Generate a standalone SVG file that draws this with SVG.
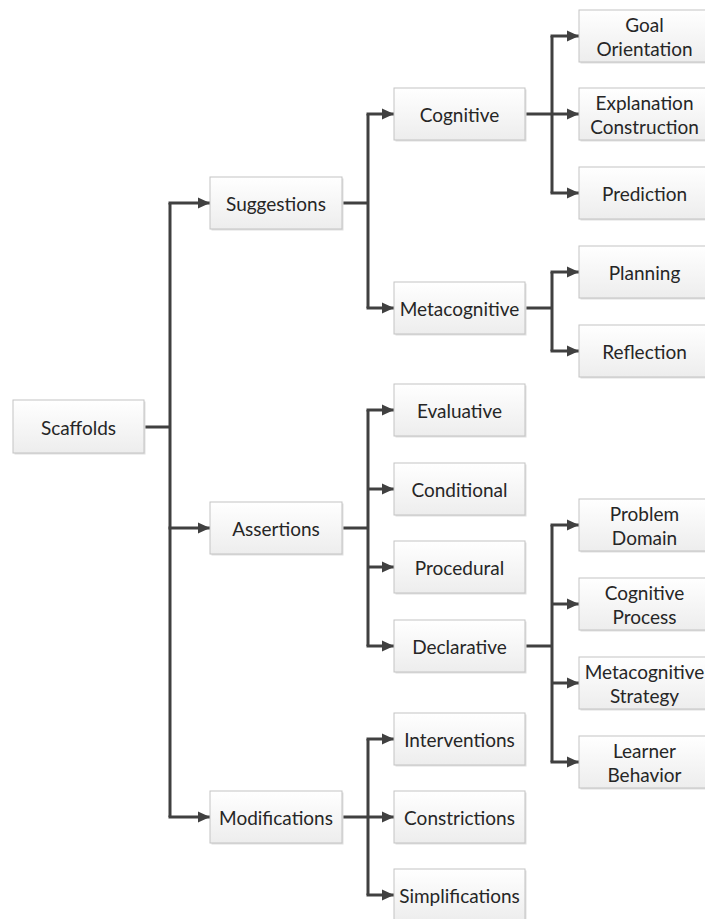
<svg xmlns="http://www.w3.org/2000/svg" width="705" height="919" viewBox="0 0 705 919">
<style>
.box rect.b{fill:url(#g);stroke:#c3c3c3;stroke-width:1}
.box rect.s{fill:#e0e0e0}
.box text{font-family:Lato,"Liberation Sans",sans-serif;font-size:19px;fill:#262626;text-anchor:middle;dominant-baseline:central}
#connectors path{fill:none;stroke:#404040;stroke-width:3}
#connectors path.a{marker-end:url(#arr)}
</style>
<defs>
<linearGradient id="g" x1="0" y1="0" x2="0" y2="1"><stop offset="0" stop-color="#ffffff"/><stop offset="1" stop-color="#ededed"/></linearGradient>
<marker id="arr" markerUnits="userSpaceOnUse" markerWidth="12" markerHeight="12" refX="12" refY="6" orient="auto"><path d="M0,0.5 L12,6 L0,11.5 z" fill="#404040"/></marker>
</defs>
<rect width="705" height="919" fill="#ffffff"/>
<g id="connectors">
<path d="M144 427 H170 M170 203 V817"/>
<path class="a" d="M168.5 203 H210"/><path class="a" d="M168.5 528 H210"/><path class="a" d="M168.5 817 H210"/>
<path d="M342 203 H368 M368 114 V308"/>
<path class="a" d="M366.5 114 H394"/><path class="a" d="M366.5 308 H394"/>
<path d="M342 528 H368 M368 410 V646"/>
<path class="a" d="M366.5 410 H394"/><path class="a" d="M368 489 H394"/><path class="a" d="M368 567 H394"/><path class="a" d="M366.5 646 H394"/>
<path d="M342 817 H368 M368 739 V895"/>
<path class="a" d="M366.5 739 H394"/><path class="a" d="M368 817 H394"/><path class="a" d="M366.5 895 H394"/>
<path d="M525 114 H552 M552 36 V193"/>
<path class="a" d="M550.5 36 H579"/><path class="a" d="M552 114 H579"/><path class="a" d="M550.5 193 H579"/>
<path d="M525 308 H552 M552 272 V351"/>
<path class="a" d="M550.5 272 H579"/><path class="a" d="M550.5 351 H579"/>
<path d="M525 646 H552 M552 525 V762"/>
<path class="a" d="M550.5 525 H579"/><path class="a" d="M552 604 H579"/><path class="a" d="M552 683 H579"/><path class="a" d="M550.5 762 H579"/>
</g>
<g id="scaffolds" class="box"><rect class="s" x="14.5" y="401.5" width="131" height="53"/><rect class="b" x="13" y="400" width="131" height="53"/><text x="78.5" y="427">Scaffolds</text></g>
<g id="suggestions" class="box"><rect class="s" x="211.5" y="178.5" width="132" height="52"/><rect class="b" x="210" y="177" width="132" height="52"/><text x="276" y="203">Suggestions</text></g>
<g id="assertions" class="box"><rect class="s" x="211.5" y="503.5" width="132" height="52"/><rect class="b" x="210" y="502" width="132" height="52"/><text x="276" y="528">Assertions</text></g>
<g id="modifications" class="box"><rect class="s" x="211.5" y="792.5" width="132" height="52"/><rect class="b" x="210" y="791" width="132" height="52"/><text x="276" y="817">Modifications</text></g>
<g id="cognitive" class="box"><rect class="s" x="395.5" y="89.5" width="131" height="52"/><rect class="b" x="394" y="88" width="131" height="52"/><text x="459.5" y="114">Cognitive</text></g>
<g id="metacognitive" class="box"><rect class="s" x="395.5" y="283.5" width="131" height="52"/><rect class="b" x="394" y="282" width="131" height="52"/><text x="459.5" y="308">Metacognitive</text></g>
<g id="evaluative" class="box"><rect class="s" x="395.5" y="385.5" width="131" height="52"/><rect class="b" x="394" y="384" width="131" height="52"/><text x="459.5" y="410">Evaluative</text></g>
<g id="conditional" class="box"><rect class="s" x="395.5" y="464.5" width="131" height="52"/><rect class="b" x="394" y="463" width="131" height="52"/><text x="459.5" y="489">Conditional</text></g>
<g id="procedural" class="box"><rect class="s" x="395.5" y="542.5" width="131" height="52"/><rect class="b" x="394" y="541" width="131" height="52"/><text x="459.5" y="567">Procedural</text></g>
<g id="declarative" class="box"><rect class="s" x="395.5" y="621.5" width="131" height="52"/><rect class="b" x="394" y="620" width="131" height="52"/><text x="459.5" y="646">Declarative</text></g>
<g id="interventions" class="box"><rect class="s" x="395.5" y="714.5" width="131" height="52"/><rect class="b" x="394" y="713" width="131" height="52"/><text x="459.5" y="739">Interventions</text></g>
<g id="constrictions" class="box"><rect class="s" x="395.5" y="792.5" width="131" height="52"/><rect class="b" x="394" y="791" width="131" height="52"/><text x="459.5" y="817">Constrictions</text></g>
<g id="simplifications" class="box"><rect class="s" x="395.5" y="870.5" width="131" height="52"/><rect class="b" x="394" y="869" width="131" height="52"/><text x="459.5" y="895">Simplifications</text></g>
<g id="goal-orientation" class="box"><rect class="s" x="580.5" y="11.5" width="131" height="52"/><rect class="b" x="579" y="10" width="131" height="52"/><text x="644.5" y="24">Goal</text><text x="644.5" y="48">Orientation</text></g>
<g id="explanation-construction" class="box"><rect class="s" x="580.5" y="89.5" width="131" height="52"/><rect class="b" x="579" y="88" width="131" height="52"/><text x="644.5" y="102">Explanation</text><text x="644.5" y="126">Construction</text></g>
<g id="prediction" class="box"><rect class="s" x="580.5" y="168.5" width="131" height="52"/><rect class="b" x="579" y="167" width="131" height="52"/><text x="644.5" y="193">Prediction</text></g>
<g id="planning" class="box"><rect class="s" x="580.5" y="247.5" width="131" height="52"/><rect class="b" x="579" y="246" width="131" height="52"/><text x="644.5" y="272">Planning</text></g>
<g id="reflection" class="box"><rect class="s" x="580.5" y="326.5" width="131" height="52"/><rect class="b" x="579" y="325" width="131" height="52"/><text x="644.5" y="351">Reflection</text></g>
<g id="problem-domain" class="box"><rect class="s" x="580.5" y="500.5" width="131" height="52"/><rect class="b" x="579" y="499" width="131" height="52"/><text x="644.5" y="513">Problem</text><text x="644.5" y="537">Domain</text></g>
<g id="cognitive-process" class="box"><rect class="s" x="580.5" y="579.5" width="131" height="52"/><rect class="b" x="579" y="578" width="131" height="52"/><text x="644.5" y="592">Cognitive</text><text x="644.5" y="616">Process</text></g>
<g id="metacognitive-strategy" class="box"><rect class="s" x="580.5" y="658.5" width="131" height="52"/><rect class="b" x="579" y="657" width="131" height="52"/><text x="644.5" y="671">Metacognitive</text><text x="644.5" y="695">Strategy</text></g>
<g id="learner-behavior" class="box"><rect class="s" x="580.5" y="737.5" width="131" height="52"/><rect class="b" x="579" y="736" width="131" height="52"/><text x="644.5" y="750">Learner</text><text x="644.5" y="774">Behavior</text></g>
</svg>
